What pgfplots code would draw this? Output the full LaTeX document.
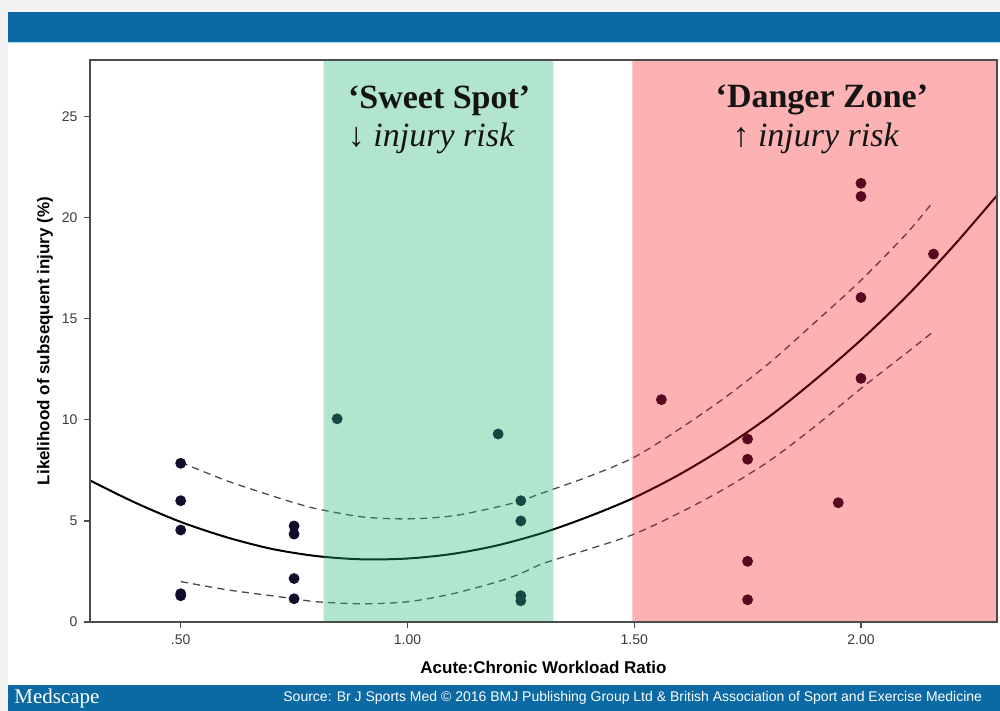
\documentclass[border=0pt]{standalone}
\usepackage{fontspec}
\setmainfont{Liberation Sans}
\newfontfamily\timesf{Liberation Serif}
\usepackage{pgfplots}
\pgfplotsset{compat=1.18}
\definecolor{hdrblue}{RGB}{11,106,163}
\definecolor{ptnavy}{RGB}{15,15,45}
\definecolor{bandgreen}{RGB}{37,181,114}
\definecolor{bandred}{RGB}{247,0,0}
\definecolor{tickgrey}{RGB}{60,60,60}
\definecolor{dashgrey}{RGB}{75,75,75}
\begin{document}
\begin{tikzpicture}
\useasboundingbox (0pt,0pt) rectangle (500pt,355.5pt);
\fill[black!5] (0pt,0pt) rectangle (500pt,355.5pt);
\fill[white] (4pt,13pt) rectangle (500pt,334.5pt);
\fill[hdrblue] (4pt,334.5pt) rectangle (500pt,349.5pt);
\draw[cyan!35!white, line width=0.6pt] (4pt,334.3pt) -- (500pt,334.3pt);
\fill[hdrblue] (4pt,0pt) rectangle (500pt,13pt);
\node[anchor=west, text=white, inner sep=0pt, font=\timesf\fontsize{10.5}{12}\selectfont] at (7pt,6.5pt) {Medscape};
\begin{scope}
\clip (4pt,0pt) rectangle (500pt,13pt);
\node[anchor=west, text=white, inner sep=0pt, font=\fontsize{7}{8}\selectfont] at (141.5pt,6.5pt) {Source: Br J Sports Med © 2016 BMJ Publishing Group Ltd \& British Association of Sport and Exercise Medicine};
\end{scope}
\begin{axis}[
  at={(45pt,44.5pt)}, anchor=south west,
  scale only axis, width=453.5pt, height=281pt,
  xmin=0.3, xmax=2.3, ymin=0, ymax=27.8,
  axis on top,
  clip marker paths=true,
  axis line style={draw=black!70, line width=0.7pt},
  tick align=outside, tick pos=left,
  major tick length=2.8pt,
  tick style={draw=black!70, line width=0.6pt},
  xtick={0.5,1,1.5,2}, xticklabels={.50,1.00,1.50,2.00},
  ytick={0,5,10,15,20,25},
  /pgf/number format/assume math mode=true,
  ticklabel style={font=\fontsize{7}{8}\selectfont, text=tickgrey},
  xlabel={Acute:Chronic Workload Ratio},
  ylabel={Likelihood of subsequent injury (\%)},
  label style={font=\bfseries\fontsize{8.5}{10}\selectfont},
  xlabel style={at={(axis description cs:0.5,-0.080)}, anchor=center},
  ylabel style={at={(axis description cs:-0.0496,0.5)}, anchor=center},
  clip=true,
]
% fitted curve
\addplot[black, line width=1pt, smooth] coordinates {
(0.3,7.0)(0.4,5.9)(0.5,4.95)(0.6,4.2)(0.7,3.62)(0.8,3.26)(0.9,3.1)(1.0,3.14)(1.1,3.37)(1.2,3.8)(1.3,4.42)(1.4,5.22)(1.5,6.15)(1.6,7.3)(1.7,8.65)(1.8,10.2)(1.9,12.0)(2.0,13.95)(2.1,16.1)(2.2,18.5)(2.3,21.1)};
% upper CI
\addplot[dashgrey, line width=0.65pt, dash pattern=on 3.6pt off 2.6pt, smooth] coordinates {
(0.5,7.9)(0.6,7.0)(0.7,6.25)(0.75,5.9)(0.8,5.6)(0.9,5.2)(1.0,5.1)(1.1,5.25)(1.2,5.7)(1.25,6.0)(1.3,6.4)(1.4,7.2)(1.5,8.15)(1.6,9.55)(1.7,11.1)(1.8,12.85)(1.9,14.85)(2.0,16.9)(2.1,19.2)(2.156,20.7)};
% lower CI
\addplot[dashgrey, line width=0.65pt, dash pattern=on 3.6pt off 2.6pt, smooth] coordinates {
(0.5,2.0)(0.6,1.6)(0.7,1.3)(0.75,1.15)(0.8,1.0)(0.9,0.9)(1.0,1.0)(1.1,1.4)(1.2,2.0)(1.25,2.4)(1.3,2.9)(1.4,3.6)(1.5,4.35)(1.6,5.4)(1.7,6.6)(1.8,8.0)(1.9,9.7)(2.0,11.55)(2.1,13.3)(2.156,14.3)};
% data points
\addplot[only marks, mark=*, mark size=2.5pt, color=ptnavy] coordinates {
(0.5,7.85)(0.5,6.0)(0.5,4.55)(0.5,1.4)(0.5,1.3)
(0.75,4.75)(0.75,4.35)(0.75,2.15)(0.75,1.15)
(0.845,10.05)(1.2,9.3)(1.25,6.0)(1.25,5.0)(1.25,1.3)(1.25,1.05)
(1.56,11.0)(1.75,9.05)(1.75,8.05)(1.75,3.0)(1.75,1.1)(1.95,5.9)
(2.0,21.7)(2.0,21.05)(2.0,16.05)(2.0,12.05)(2.16,18.2)};
% bands
\addplot[draw=none, fill=bandgreen, fill opacity=0.35] coordinates {(0.815,0)(0.815,27.8)(1.322,27.8)(1.322,0)} \closedcycle;
\addplot[draw=none, fill=bandred, fill opacity=0.30] coordinates {(1.496,0)(1.496,27.8)(2.4,27.8)(2.4,0)} \closedcycle;
% annotations
\node[font=\timesf\bfseries\fontsize{17}{19}\selectfont, text=black!92] at (axis cs:1.07,25.8) {‘Sweet Spot’};
\node[font=\timesf\itshape\fontsize{17}{19}\selectfont, text=black!92] at (axis cs:1.052,23.9) {{\upshape ↓} injury risk};
\node[font=\timesf\bfseries\fontsize{17}{19}\selectfont, text=black!92] at (axis cs:1.914,25.8) {‘Danger Zone’};
\node[font=\timesf\itshape\fontsize{17}{19}\selectfont, text=black!92] at (axis cs:1.90,23.9) {{\upshape ↑} injury risk};
\end{axis}
\end{tikzpicture}
\end{document}
